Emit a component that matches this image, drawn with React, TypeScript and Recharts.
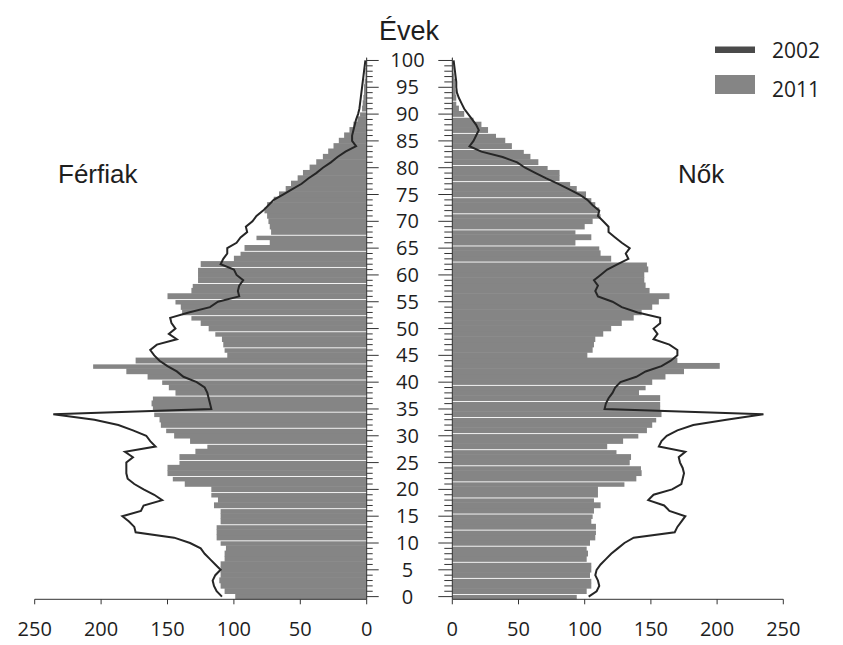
import { ComposedChart, Bar, Line, XAxis, YAxis } from "recharts";

// ── data (index = age, 0..100) ───────────────────────────────────────────────
const ages = Array.from({ length: 101 }, (_, i) => i);

const men2011 = [
  99, 107, 110, 111, 110, 110, 110, 107, 107, 106,
  110, 113, 113, 113, 110, 110, 110, 115, 112, 117,
  117, 137, 146, 150, 150, 141, 141, 129, 120, 133,
  145, 151, 155, 156, 160, 161, 162, 161, 144, 149,
  154, 165, 181, 206, 174, 105, 107, 108, 109, 114,
  119, 125, 132, 139, 140, 144, 150, 132, 131, 127,
  127, 127, 125, 100, 95, 92, 73, 83, 72, 73,
  74, 75, 77, 75, 70, 66, 61, 57, 52, 48,
  43, 38, 33, 29, 25, 21, 17, 13, 10, 7,
  5, 3.5, 3, 2.5, 2, 2, 1.5, 1, 1, 0.5,
  0.5,
];

const men2002 = [
  109, 113, 115, 116, 114, 110, 114, 118, 122, 125,
  133, 145, 174, 175, 179, 184, 170, 168, 154, 160,
  168, 175, 180, 181, 181, 181, 176, 182, 159, 163,
  166, 176, 187, 205, 236, 117, 118, 119, 120, 122,
  128, 138, 143, 150, 156, 160, 163, 158, 143, 149,
  144, 147, 148, 134, 118, 112, 96, 97, 96, 93,
  98, 100, 110, 108, 105, 105, 98, 95, 90, 91,
  86, 83, 78, 74, 70, 63, 56, 49, 44, 38,
  33, 27, 22, 16, 8, 11, 11, 10, 9, 8,
  6.5, 5.5, 5, 4.5, 4, 3.5, 3, 2.5, 2, 1.5,
  1,
];

const women2011 = [
  94, 101.5, 105, 105, 104, 105, 105, 101.5, 102.5, 101.5,
  104, 108, 108.5, 108.5, 105, 106, 107, 112, 107, 110,
  110, 130, 139, 143, 142.5, 134, 135, 124, 117, 129,
  140.5, 147, 151, 154, 158, 157, 157, 157, 141, 146,
  151, 161, 175, 202, 170, 102, 106, 107, 108, 114,
  120, 128, 137, 143, 151, 156, 164, 149, 146, 145,
  145, 148, 147, 120, 112, 111, 93, 105, 93, 100,
  106, 112, 111, 108, 105, 101, 94, 89, 81, 81,
  72, 65, 59, 54, 45, 40, 33, 27, 22, 16,
  9, 5, 3, 3, 2.5, 2, 2, 1.5, 1, 1,
  0.5,
];

const women2002 = [
  103, 109, 111, 110, 108, 109, 112, 116, 120, 125,
  130, 137, 168, 170, 173, 176, 164, 160, 148, 152,
  166, 173, 174, 175, 174, 172, 171, 176, 156, 158,
  162, 170, 182, 207, 235, 115, 116, 118, 121, 123,
  127, 139, 146, 158, 165, 170, 170, 164, 152, 155,
  152, 157, 157, 140, 128, 121, 110, 108, 110, 107,
  112, 117, 125, 133, 131, 134, 128, 123, 118, 118,
  114, 110, 111, 106, 102, 96, 88, 80, 71, 63,
  55, 49, 38, 22, 13, 16, 18, 20, 18, 15,
  12, 9, 7, 5, 3.5, 3, 3, 2.5, 2, 1.5,
  1,
];

const valueTicks = [0, 50, 100, 150, 200, 250];

// thin white seams between some bars (as in the printed figure)
const menSeams = [10, 13, 16, 19, 22, 25, 28, 31, 34, 37, 40, 43, 46, 49, 52, 55, 58, 61, 64, 67, 90];
const womenSeams = [0, 3, 6, 9, 12, 15, 18, 21, 24, 27, 30, 33, 36, 39, 62, 65, 68, 71, 74, 77, 80, 83, 86, 89, 92];

const rows = ages.map((age, i) => ({
  age,
  m2011: men2011[i],
  m2002: men2002[i],
  f2011: women2011[i],
  f2002: women2002[i],
}));

// ── styling ──────────────────────────────────────────────────────────────────
const BAR = "#858585";
const LINE = "#262626";
const AXIS = "#333";
const TEXT = "#1e1e1e";
const DIGITS = "'Open Sans', 'DejaVu Sans', sans-serif";
const SANS = "'Liberation Sans', Arial, sans-serif";

const CHART_H = 645;
const PLOT_TOP = 57.8;
const PLOT_BOTTOM_MARGIN = 5.7;
const X_AXIS_H = 40;
const BAND = (CHART_H - PLOT_TOP - PLOT_BOTTOM_MARGIN - X_AXIS_H) / ages.length;

// recharts rounds the bar thickness down to whole pixels, so redraw each bar
// at the full band height (a hair more, to avoid hairline gaps)
function barShape(seams: number[]) {
  return (props: any) => {
    const { x, y, width, height, payload, fill } = props;
    const x0 = Math.min(x, x + width);
    const cy = Math.min(y, y + height) + Math.abs(height) / 2;
    const top = cy - BAND / 2 - 0.25;
    const cut = seams.includes(payload.age) ? 1.4 : 0;
    return (
      <rect
        x={x0}
        y={top + cut}
        width={Math.abs(width)}
        height={BAND + 0.5 - cut}
        fill={fill}
      />
    );
  };
}

// centre age axis: a tick per year, longer every 5, labels drawn once
function AgeTick(props: any) {
  const { x, y, payload, side } = props;
  const age = Number(payload.value);
  const major = age % 5 === 0;
  const dir = side === "left" ? 1 : -1;
  const len = side === "left" ? (major ? 12 : 6) : (major ? 14 : 8);
  return (
    <g>
      <line x1={x} x2={x + dir * len} y1={y} y2={y} stroke={AXIS} strokeWidth={1} />
      {side === "left" && major && (
        <text
          x={x + 40.8}
          y={y + 7}
          textAnchor="middle"
          fontSize={20}
          fontFamily={DIGITS}
          fill={TEXT}
        >
          {age}
        </text>
      )}
    </g>
  );
}

const xTick = { fontSize: 20, fontFamily: DIGITS, fill: TEXT };

export default function App() {
  return (
    <div
      style={{
        position: "absolute",
        left: 0,
        top: 0,
        width: 843,
        height: 645,
        background: "#fff",
        overflow: "hidden",
      }}
    >
      {/* men */}
      <div style={{ position: "absolute", left: 0, top: 0 }}>
        <ComposedChart
          layout="vertical"
          width={430}
          height={CHART_H}
          data={rows}
          barCategoryGap={0}
          barGap={0}
          margin={{ top: PLOT_TOP, right: 62.3, bottom: PLOT_BOTTOM_MARGIN, left: 34.7 }}
        >
          <XAxis
            type="number"
            domain={[0, 250]}
            ticks={valueTicks}
            reversed
            height={X_AXIS_H}
            tickSize={5}
            tickMargin={17}
            stroke={AXIS}
            tick={xTick}
            interval={0}
          />
          <YAxis
            type="category"
            dataKey="age"
            reversed
            orientation="right"
            width={1}
            interval={0}
            tickSize={0}
            tickMargin={0}
            tickLine={false}
            stroke={AXIS}
            tick={(p: any) => <AgeTick {...p} side="left" />}
          />
          <Bar dataKey="m2011" fill={BAR} shape={barShape(menSeams)} isAnimationActive={false} />
          <Line
            dataKey="m2002"
            type="linear"
            stroke={LINE}
            strokeWidth={2}
            dot={false}
            isAnimationActive={false}
          />
        </ComposedChart>
      </div>

      {/* women */}
      <div style={{ position: "absolute", left: 430, top: 0 }}>
        <ComposedChart
          layout="vertical"
          width={413}
          height={CHART_H}
          data={rows}
          barCategoryGap={0}
          barGap={0}
          margin={{ top: PLOT_TOP, right: 59.7, bottom: PLOT_BOTTOM_MARGIN, left: 21.3 }}
        >
          <XAxis
            type="number"
            domain={[0, 250]}
            ticks={valueTicks}
            height={X_AXIS_H}
            tickSize={5}
            tickMargin={17}
            stroke={AXIS}
            tick={xTick}
            interval={0}
          />
          <YAxis
            type="category"
            dataKey="age"
            reversed
            orientation="left"
            width={1}
            interval={0}
            tickSize={0}
            tickMargin={0}
            tickLine={false}
            stroke={AXIS}
            tick={(p: any) => <AgeTick {...p} side="right" />}
          />
          <Bar dataKey="f2011" fill={BAR} shape={barShape(womenSeams)} isAnimationActive={false} />
          <Line
            dataKey="f2002"
            type="linear"
            stroke={LINE}
            strokeWidth={2}
            dot={false}
            isAnimationActive={false}
          />
        </ComposedChart>
      </div>

      {/* titles + legend */}
      <svg
        width={843}
        height={645}
        style={{ position: "absolute", left: 0, top: 0, pointerEvents: "none" }}
      >
        <text x={409} y={40} textAnchor="middle" fontSize={27} fontFamily={SANS} fill={TEXT}>
          Évek
        </text>
        <text x={58} y={183} fontSize={26} fontFamily={SANS} fill={TEXT}>
          Férfiak
        </text>
        <text x={678} y={183} fontSize={26} fontFamily={SANS} fill={TEXT}>
          Nők
        </text>
        <rect x={715} y={46.5} width={40} height={6.5} fill="#4a4a4a" />
        <text x={772} y={58} fontSize={21} fontFamily={DIGITS} fill={TEXT}>
          2002
        </text>
        <rect x={715} y={75} width={40} height={19} fill={BAR} />
        <text x={772} y={97} fontSize={21} fontFamily={DIGITS} fill={TEXT}>
          2011
        </text>
      </svg>
    </div>
  );
}
